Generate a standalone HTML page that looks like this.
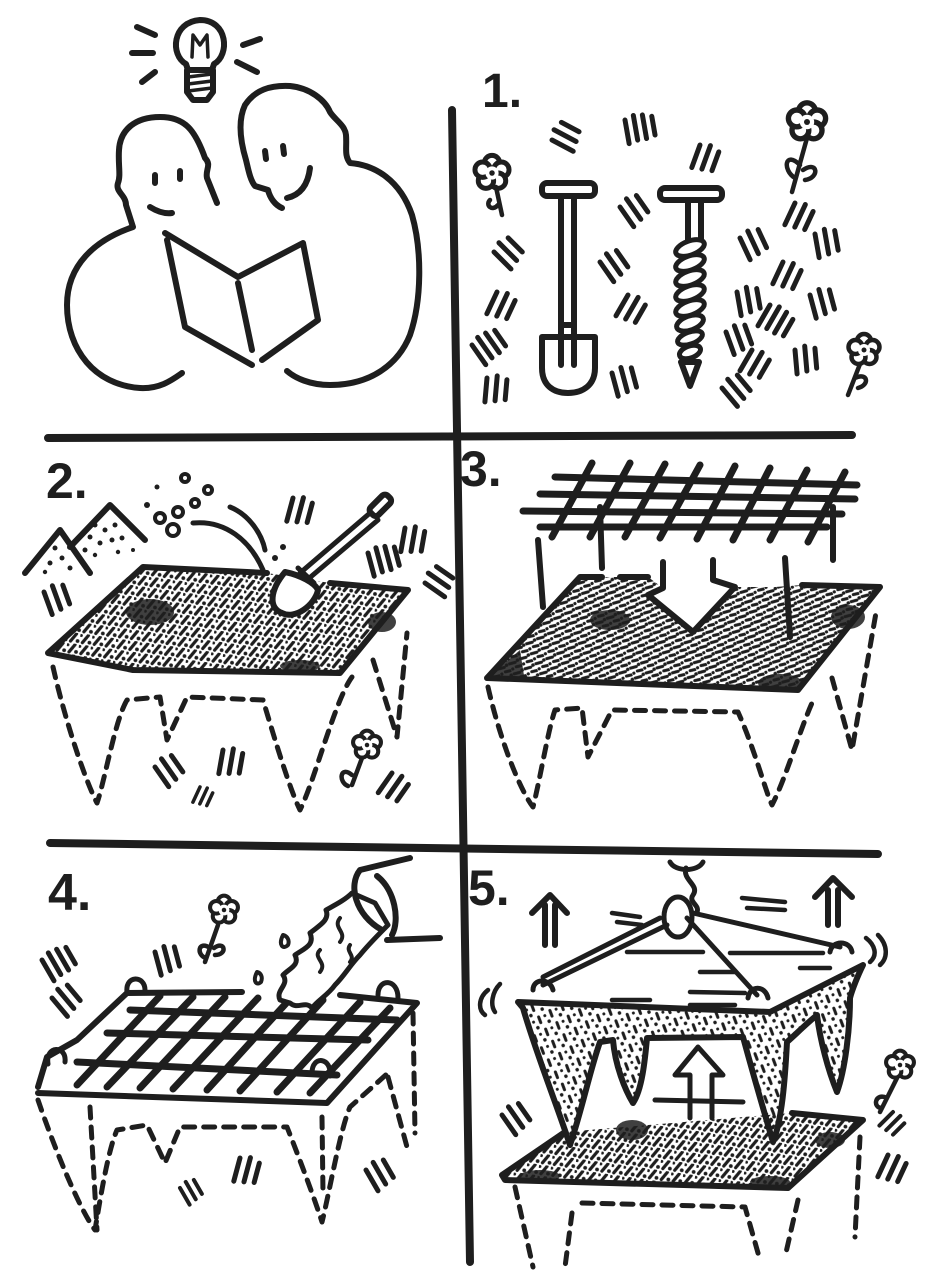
<!DOCTYPE html>
<html><head><meta charset="utf-8"><style>
html,body{margin:0;padding:0;background:#fff;}
svg{display:block;}
.n{font-family:"Liberation Sans",sans-serif;font-weight:bold;fill:#1e1e1e;}
</style></head><body>
<svg width="931" height="1280" viewBox="0 0 931 1280" xmlns="http://www.w3.org/2000/svg">
<defs>
<pattern id="soil" width="12" height="11" patternUnits="userSpaceOnUse" patternTransform="rotate(8)">
 <path d="M3,9 L8,1" stroke="#1e1e1e" stroke-width="3.2" stroke-linecap="round" fill="none"/>
 <circle cx="10" cy="8" r="1.9" fill="#1e1e1e"/>
 <circle cx="1" cy="2" r="1.5" fill="#1e1e1e"/>
</pattern>
<pattern id="soil2" width="12" height="11" patternUnits="userSpaceOnUse" patternTransform="rotate(-25)">
 <path d="M1,3 L7,4 M6,8.5 L11,9.5" stroke="#1e1e1e" stroke-width="3" stroke-linecap="round" fill="none"/>
 <circle cx="10" cy="3" r="1.8" fill="#1e1e1e"/>
 <circle cx="2" cy="9" r="1.6" fill="#1e1e1e"/>
</pattern>
<pattern id="soil3" width="14" height="13" patternUnits="userSpaceOnUse" patternTransform="rotate(60)">
 <path d="M2,3 L8,4" stroke="#1e1e1e" stroke-width="3" stroke-linecap="round" fill="none"/>
 <circle cx="11" cy="9" r="1.8" fill="#1e1e1e"/>
 <circle cx="4" cy="10" r="1.5" fill="#1e1e1e"/>
</pattern>
<path id="gA" d="M0,0 L0,24 M10,-3 L10,22 M20,0 L20,20"/>
<path id="gB" d="M0,0 L0,24 M9,-3 L9,22 M18,-2 L18,22 M27,1 L27,20"/>
<g id="fl">
 <circle cx="0" cy="-9" r="7"/><circle cx="8.5" cy="-3" r="7"/><circle cx="5.5" cy="7" r="7"/><circle cx="-5.5" cy="7" r="7"/><circle cx="-8.5" cy="-3" r="7"/>
 <circle cx="0" cy="0" r="6" fill="#fff" stroke="none"/>
 <circle cx="0" cy="0" r="2.5" fill="#1e1e1e" stroke="none"/>
</g>
</defs>

<rect width="931" height="1280" fill="#fff"/>

<g fill="none" stroke="#1e1e1e" stroke-width="6" stroke-linecap="round" stroke-linejoin="round">

<!-- dividers -->
<path d="M452,110 L470,1262" stroke-width="8"/>
<path d="M48,438 L852,435" stroke-width="8"/>
<path d="M50,843 L878,854" stroke-width="8"/>

<!-- ===== panel 0: people ===== -->
<path d="M186,64 C170,55 172,22 200,20 C228,20 230,55 214,64 L212,70 L188,70 Z"/>
<path d="M192,57 L193,35 L200,45 L207,35 L208,57" stroke-width="3.5"/>
<path d="M187,70 L213,70 L213,92 L207,100 L193,100 L187,92 Z"/>
<path d="M188,77 L212,74 M188,84 L212,81 M188,91 L212,88" stroke-width="3.5"/>
<path d="M137,27 L155,35 M132,53 L153,53 M142,82 L155,72 M243,45 L260,39 M237,62 L257,72"/>
<path d="M217,203 L207,178 C205,170 212,165 205,158 C195,130 185,117 160,117 C135,117 120,130 119,150 C118,165 121,175 118,183 C115,192 126,195 126,205 L133,227 C95,240 67,265 67,305 C67,350 95,385 140,388 C160,389 172,380 182,373"/>
<path d="M155,175 L155,183 M180,171 L180,179 M150,207 C158,212 165,214 172,213"/>
<path d="M282,208 C275,205 270,198 268,190 L255,186 C250,180 248,168 246,160 C240,140 238,120 245,105 C255,90 270,85 290,86 C310,88 325,100 330,112 C335,120 345,125 346,135 C347,148 344,155 350,163 C375,165 400,180 412,215 C422,250 422,300 410,335 C398,365 370,385 330,385 C310,385 295,378 287,371"/>
<path d="M265,151 L266,159 M283,146 L284,154 M287,198 C300,195 308,185 310,168"/>
<path d="M165,233 L238,277 L303,243 L318,320 L262,360 M167,240 L185,327 L252,365 M238,283 L252,350"/>

<!-- ===== panel 1 ===== -->
<text class="n" x="482" y="107" font-size="48" stroke="none">1.</text>
<rect x="542" y="183" width="53" height="13" rx="5"/>
<path d="M561,196 L561,365 M574,196 L574,365 M561,325 L574,325"/>
<path d="M542,337 L595,337 L595,368 C595,385 583,393 568,393 C553,393 542,385 542,368 Z"/>
<rect x="660" y="188" width="62" height="12" rx="5"/>
<path d="M688,200 L688,240 M701,200 L701,240"/>
<g fill="#fff" stroke-width="5">
 <ellipse cx="690" cy="248" rx="15" ry="7" transform="rotate(-20 690 248)"/>
 <ellipse cx="690" cy="263" rx="15" ry="7" transform="rotate(-20 690 263)"/>
 <ellipse cx="690" cy="278" rx="15" ry="7" transform="rotate(-20 690 278)"/>
 <ellipse cx="690" cy="293" rx="15" ry="7" transform="rotate(-20 690 293)"/>
 <ellipse cx="690" cy="308" rx="15" ry="7" transform="rotate(-20 690 308)"/>
 <ellipse cx="690" cy="323" rx="14" ry="7" transform="rotate(-20 690 323)"/>
 <ellipse cx="690" cy="338" rx="13" ry="6" transform="rotate(-20 690 338)"/>
 <ellipse cx="690" cy="352" rx="11" ry="6" transform="rotate(-20 690 352)"/>
</g>
<path d="M681,362 L699,362 L690,386 Z"/>
<g stroke-width="4.5" fill="#fff">
 <use href="#fl" transform="translate(492,173) scale(1.1)"/>
 <use href="#fl" transform="translate(807,122) scale(1.2)"/>
 <use href="#fl" transform="translate(864,350) scale(1)"/>
</g>
<path d="M496,187 L502,215 M490,200 C485,205 492,212 498,205 M807,138 L792,192 M800,165 C785,150 782,170 795,178 M803,170 C818,160 820,178 805,180 M860,364 L848,395 M855,378 C868,372 870,385 858,388" stroke-width="4.5"/>
<g stroke-width="5">
 <use href="#gA" transform="translate(552,140) rotate(-62)"/>
 <use href="#gB" transform="translate(625,120) rotate(-10)"/>
 <use href="#gA" transform="translate(700,145) rotate(20)"/>
 <use href="#gA" transform="translate(620,207) rotate(-35)"/>
 <use href="#gA" transform="translate(494,252) rotate(-45)"/>
 <use href="#gA" transform="translate(497,292) rotate(25)"/>
 <use href="#gA" transform="translate(600,262) rotate(-35)"/>
 <use href="#gA" transform="translate(628,295) rotate(30)"/>
 <use href="#gB" transform="translate(472,345) rotate(-35)"/>
 <use href="#gA" transform="translate(487,378) rotate(5)"/>
 <use href="#gA" transform="translate(612,373) rotate(-15)"/>
 <use href="#gA" transform="translate(795,203) rotate(25)"/>
 <use href="#gA" transform="translate(740,238) rotate(-25)"/>
 <use href="#gA" transform="translate(815,234) rotate(-10)"/>
 <use href="#gA" transform="translate(783,262) rotate(25)"/>
 <use href="#gA" transform="translate(737,292) rotate(-10)"/>
 <use href="#gB" transform="translate(770,305) rotate(30)"/>
 <use href="#gA" transform="translate(810,295) rotate(-15)"/>
 <use href="#gA" transform="translate(726,332) rotate(-20)"/>
 <use href="#gA" transform="translate(752,350) rotate(30)"/>
 <use href="#gA" transform="translate(795,350) rotate(-5)"/>
 <use href="#gA" transform="translate(722,388) rotate(-40)"/>
</g>

<!-- ===== panel 2 ===== -->
<text class="n" x="46" y="498" font-size="50" stroke="none">2.</text>
<path d="M25,573 L60,530 L90,573 M70,547 L110,505 L145,540"/>
<g fill="#1e1e1e" stroke="none">
 <circle cx="55" cy="548" r="2.5"/><circle cx="62" cy="558" r="2.5"/><circle cx="50" cy="563" r="2.5"/><circle cx="70" cy="568" r="2.5"/><circle cx="45" cy="572" r="2.2"/>
 <circle cx="95" cy="525" r="2.5"/><circle cx="105" cy="530" r="2.5"/><circle cx="115" cy="525" r="2.5"/><circle cx="90" cy="537" r="2.5"/><circle cx="100" cy="543" r="2.5"/><circle cx="112" cy="540" r="2.5"/><circle cx="122" cy="538" r="2.5"/><circle cx="85" cy="550" r="2.5"/><circle cx="95" cy="555" r="2.2"/><circle cx="118" cy="552" r="2.2"/><circle cx="133" cy="550" r="2"/>
 <circle cx="157" cy="487" r="2.5"/><circle cx="147" cy="505" r="3"/>
 <circle cx="283" cy="547" r="3"/><circle cx="275" cy="558" r="3"/>
</g>
<g stroke-width="4">
 <circle cx="160" cy="518" r="5"/><circle cx="178" cy="512" r="5"/><circle cx="173" cy="530" r="6"/><circle cx="195" cy="503" r="4"/><circle cx="185" cy="478" r="4"/><circle cx="208" cy="490" r="4"/>
</g>
<path d="M193,523 C225,520 250,540 263,570 M230,507 C250,515 262,535 265,550" stroke-width="5"/>
<path d="M48,653 L143,567 L267,573 L330,583 L408,590 L340,673 L133,670 Z" fill="url(#soil)" stroke="none"/>
<g fill="#1e1e1e" stroke="none" opacity="0.85">
 <ellipse cx="150" cy="612" rx="24" ry="13"/>
 <ellipse cx="382" cy="622" rx="14" ry="10"/>
 <ellipse cx="300" cy="666" rx="20" ry="6"/>
</g>
<path d="M267,573 L143,567 L48,653 L133,670 L340,673 L408,590 L330,583"/>
<path d="M300,573 L370,513 M307,580 L378,520 M298,568 L314,583" stroke-width="5"/>
<rect x="368" y="500" width="24" height="11" rx="4" transform="rotate(-45 380 505)"/>
<path d="M285,572 C300,575 315,583 318,590 C315,605 295,620 282,613 C268,608 270,590 285,572 Z" fill="#fff"/>
<path d="M53,667 C65,720 85,780 97,803 C105,780 115,720 127,700 L160,697 L167,740 L187,697 L263,700 C275,740 290,790 300,810 C315,780 335,700 352,677 M373,660 L397,737 L407,633" stroke-width="5" stroke-dasharray="11 9"/>
<g stroke-width="5">
 <use href="#gA" transform="translate(44,592) rotate(-20)"/>
 <use href="#gA" transform="translate(293,498) rotate(15)"/>
 <use href="#gA" transform="translate(405,528) rotate(10)"/>
 <use href="#gB" transform="translate(368,553) rotate(-15)"/>
 <use href="#gA" transform="translate(425,583) rotate(-55)"/>
 <use href="#gA" transform="translate(155,767) rotate(-35)"/>
 <use href="#gA" transform="translate(223,750) rotate(10)"/>
 <use href="#gA" transform="translate(200,787) rotate(25) scale(0.7)"/>
 <use href="#gA" transform="translate(392,773) rotate(35)"/>
</g>
<g stroke-width="4.5" fill="#fff">
 <use href="#fl" transform="translate(367,745) scale(0.9)"/>
</g>
<path d="M362,758 L352,785 M352,775 C340,765 338,782 348,786" stroke-width="4.5"/>

<!-- ===== panel 3 ===== -->
<text class="n" x="460" y="486" font-size="50" stroke="none">3.</text>
<path d="M555,477 L857,485 M540,494 L855,499 M523,511 L842,514 M540,527 L827,527" stroke-width="7"/>
<path d="M592,463 L552,537 M630,463 L590,537 M665,464 L625,537 M700,465 L660,538 M735,466 L697,539 M770,468 L733,540 M807,470 L770,540 M845,472 L808,542" stroke-width="7"/>
<path d="M538,540 L543,607 M600,507 L602,568 M833,507 L833,560 M785,558 L790,637"/>
<path d="M487,678 L580,577 L648,577 L663,588 L648,595 L693,632 L735,587 L775,587 L802,585 L880,587 L798,690 Z" fill="url(#soil2)" stroke="none"/>
<g fill="#1e1e1e" stroke="none" opacity="0.85">
 <ellipse cx="610" cy="620" rx="20" ry="10"/>
 <ellipse cx="848" cy="617" rx="17" ry="12"/>
 <ellipse cx="780" cy="683" rx="22" ry="9"/>
 <path d="M487,678 L520,650 L525,682 Z"/>
</g>
<path d="M602,577 L580,577 L487,678 L798,690 L880,587 L802,585 M620,577 L648,577 M663,562 L663,588 L648,595 L693,632 L735,587 L713,580 L713,560"/>
<path d="M488,687 C500,740 520,790 533,807 C540,780 548,730 555,710 L582,708 L588,757 L612,710 L738,712 C755,750 765,790 772,805 C785,780 800,730 812,703 M832,678 L852,750 L877,607" stroke-width="5" stroke-dasharray="11 9"/>

<!-- ===== panel 4 ===== -->
<text class="n" x="48" y="910" font-size="52" stroke="none">4.</text>
<path d="M38,1087 L47,1057 L77,1040 L127,993 L242,992 M340,995 L417,1003 L327,1103 L38,1093"/>
<path d="M130,1010 L397,1020 M107,1033 L368,1040 M77,1062 L337,1075" stroke-width="7"/>
<path d="M77,1085 L160,996 M107,1087 L193,997 M140,1088 L225,997 M173,1089 L258,998 M207,1090 L290,999 M240,1091 L323,1000 M277,1092 L360,1002 M310,1093 L390,1008" stroke-width="7"/>
<path d="M127,992 C125,975 145,975 145,990 M378,995 C378,978 398,978 398,998 M48,1064 C45,1045 67,1045 65,1062 M312,1073 C312,1055 332,1057 330,1076" stroke-width="5"/>
<!-- water stream -->
<path d="M280,1000 C275,990 290,985 283,975 C290,968 300,965 295,955 C305,948 315,945 310,933 C320,925 330,920 326,910 C335,905 345,900 352,893 L375,903 L388,925 C378,935 368,945 360,955 C350,965 345,975 335,985 C328,995 318,1000 312,1008 C305,1000 298,1010 290,1003 Z" fill="#fff" stroke-width="5"/>
<path d="M340,918 C332,928 348,932 340,942 M320,950 C312,958 328,962 320,972 M350,945 C345,952 356,955 350,962" stroke-width="4"/>
<path d="M360,870 C348,885 355,915 382,930 M360,870 L410,858 M387,940 L440,938 M377,876 C395,890 400,920 392,935"/>
<path d="M283,935 C278,945 283,950 288,945 C290,940 287,936 283,935 Z M257,972 C252,982 257,986 261,982 C263,977 261,973 257,972 Z" stroke-width="4"/>
<g stroke-width="4.5" fill="#fff">
 <use href="#fl" transform="translate(224,910) scale(0.9)"/>
</g>
<path d="M218,925 L205,962 M210,948 C198,940 196,955 206,958 M214,948 C225,940 228,955 215,955" stroke-width="4.5"/>
<path d="M38,1100 C55,1150 80,1210 95,1230 C100,1200 108,1150 117,1130 L147,1125 L165,1163 L180,1127 L287,1127 C300,1160 315,1200 322,1222 C330,1190 340,1130 350,1107 L388,1073 M90,1107 L97,1230 M322,1117 L323,1193 M388,1077 L407,1147 M413,1013 L415,1133" stroke-width="5" stroke-dasharray="11 9"/>
<g stroke-width="5">
 <use href="#gB" transform="translate(42,960) rotate(-30)"/>
 <use href="#gA" transform="translate(52,998) rotate(-40)"/>
 <use href="#gA" transform="translate(155,952) rotate(-15)"/>
 <use href="#gA" transform="translate(240,1158) rotate(15)"/>
 <use href="#gA" transform="translate(180,1188) rotate(-30) scale(0.8)"/>
 <use href="#gA" transform="translate(366,1170) rotate(-30)"/>
</g>

<!-- ===== panel 5 ===== -->
<text class="n" x="468" y="905" font-size="50" stroke="none">5.</text>
<path d="M532,913 L550,895 L567,913 M545,905 L545,945 M555,905 L555,945"/>
<path d="M815,897 L833,878 L852,897 M828,890 L828,925 M838,890 L838,925"/>
<path d="M670,862 C675,872 698,872 703,862 M686,868 C682,880 700,885 693,895 C688,902 700,905 697,912" stroke-width="5"/>
<ellipse cx="678" cy="917" rx="14" ry="20" stroke-width="5"/>
<!-- bottom slab -->
<path d="M502,1175 L565,1132 L792,1113 L863,1120 L788,1188 L505,1180 Z" fill="url(#soil)" stroke="none"/>
<g fill="#1e1e1e" stroke="none" opacity="0.85">
 <ellipse cx="632" cy="1130" rx="16" ry="10"/>
 <ellipse cx="830" cy="1140" rx="15" ry="8"/>
 <ellipse cx="540" cy="1176" rx="20" ry="6"/>
 <ellipse cx="770" cy="1182" rx="20" ry="6"/>
</g>
<path d="M565,1132 L502,1175 L505,1180 L788,1188 L863,1120 L792,1113"/>
<path d="M515,1187 L533,1267 M572,1213 L565,1267 M582,1203 L745,1207 L760,1260 M798,1200 L785,1257 M860,1137 L855,1237" stroke-width="5" stroke-dasharray="11 9"/>
<!-- lifted slab -->
<path d="M518,1002 L770,1012 L863,965 C858,975 852,990 850,998 C850,1030 845,1070 837,1092 C828,1070 820,1040 817,1015 C805,1025 795,1035 787,1042 C785,1080 782,1120 773,1142 C765,1115 752,1070 743,1037 L647,1038 C645,1060 642,1090 633,1103 C625,1090 615,1065 613,1040 L600,1042 C590,1070 582,1110 570,1145 C555,1100 535,1050 523,1008 Z" fill="url(#soil3)"/>
<path d="M627,952 L703,952 M730,953 L823,953 M612,1000 L650,1000 M690,992 L745,993 M700,972 L735,972 M800,968 L830,968 M690,1005 L735,1005" stroke-width="4.5"/>
<path d="M667,925 L543,985 M660,918 L543,977 M693,913 L840,947 M687,918 L757,995" stroke-width="5"/>
<path d="M533,990 C533,978 550,978 553,990 M748,998 C750,985 765,985 768,998 M830,952 C832,940 850,940 852,952" stroke-width="5"/>
<path d="M690,1118 L690,1075 L675,1075 L698,1047 L723,1075 L712,1075 L712,1118 M655,1100 L743,1102" stroke-width="5"/>
<g stroke-width="4.5">
 <path d="M612,913 L640,917 M617,922 L642,925 M742,898 L785,902 M747,908 L785,910"/>
 <path d="M866,938 C875,945 878,955 870,962 M878,935 C888,945 888,958 880,965 M488,990 C478,998 478,1010 485,1015 M500,984 C492,992 490,1005 495,1012"/>
</g>
<g stroke-width="5">
 <use href="#gA" transform="translate(502,1115) rotate(-35)"/>
 <use href="#gA" transform="translate(888,1155) rotate(25)"/>
 <use href="#gA" transform="translate(893,1112) rotate(45) scale(0.8)"/>
</g>
<g stroke-width="4.5" fill="#fff">
 <use href="#fl" transform="translate(900,1065) scale(0.9)"/>
</g>
<path d="M897,1078 L880,1112 M887,1098 C875,1092 872,1108 882,1108" stroke-width="4.5"/>

</g>
</svg>
</body></html>
